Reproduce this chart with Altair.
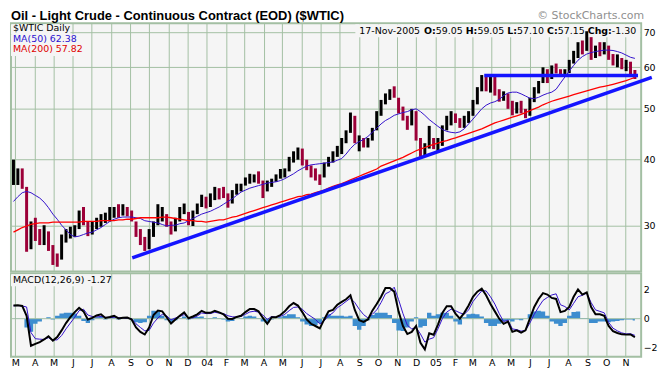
import altair as alt
import pandas as pd

# ---------------- data (weekly readings, Wednesday of each week) ----------------
first_week = "2003-02-26"

high = [
    40.0, 38.5, 38.5, 35.5, 30.5, 31.0, 29.5, 30.0, 29.2, 27.5,
    26.5, 28.8, 29.5, 29.8, 30.0, 32.0, 32.5, 30.5, 30.5, 31.0,
    31.5, 31.7, 32.5, 32.5, 32.9, 32.9, 32.5, 32.0, 30.5, 29.5,
    28.5, 29.5, 30.5, 32.9, 32.5, 31.5, 30.5, 31.0, 32.5, 33.0,
    31.8, 32.0, 33.0, 34.3, 34.0, 34.5, 35.5, 35.3, 35.5, 34.5,
    35.0, 36.0, 36.0, 37.0, 37.6, 37.5, 38.0, 36.5, 36.5, 36.8,
    37.5, 38.4, 38.5, 40.5, 41.5, 42.2, 42.0, 40.0, 39.0, 38.5,
    37.5, 39.5, 40.5, 41.5, 42.5, 44.0, 45.5, 49.2, 48.5, 44.5,
    44.0, 44.0, 46.0, 49.5, 52.0, 53.5, 54.5, 55.2, 52.5, 50.5,
    48.5, 50.0, 49.5, 44.0, 43.0, 46.4, 44.0, 44.0, 46.5, 48.5,
    49.5, 49.0, 48.0, 48.5, 49.5, 52.0, 55.0, 58.0, 57.5, 57.5,
    58.0, 54.5, 54.0, 53.5, 51.8, 51.5, 51.8, 50.0, 52.5, 55.0,
    56.5, 60.0, 59.5, 60.5, 61.0, 59.5, 59.5, 62.0, 64.5, 67.0,
    67.5, 70.3, 68.5, 66.0, 67.0, 67.0, 66.0, 63.6, 63.5, 62.5,
    62.0, 61.5, 59.3,
]
low = [
    35.8, 35.8, 35.2, 26.7, 27.0, 28.0, 27.5, 27.5, 26.8, 25.2,
    25.0, 25.8, 27.8, 28.3, 28.5, 29.5, 30.0, 28.6, 28.8, 29.5,
    29.8, 30.3, 30.5, 31.0, 31.0, 31.3, 31.2, 30.5, 28.5, 27.5,
    26.8, 27.0, 28.5, 30.0, 30.5, 29.8, 28.8, 29.2, 30.5, 31.5,
    30.0, 29.9, 31.5, 32.5, 32.3, 32.5, 33.5, 33.6, 33.8, 32.4,
    33.0, 34.3, 34.8, 35.7, 36.0, 36.2, 36.0, 33.8, 34.8, 35.5,
    36.3, 36.8, 37.0, 38.0, 39.5, 40.0, 39.0, 38.2, 37.0, 36.5,
    35.8, 37.0, 38.8, 39.5, 40.5, 41.0, 43.0, 45.0, 43.0, 41.5,
    42.2, 42.2, 43.5, 45.5, 48.5, 51.0, 52.0, 52.5, 49.0, 47.5,
    45.6, 46.5, 43.5, 40.5, 40.8, 42.0, 41.9, 41.5, 42.5, 45.5,
    46.5, 47.0, 46.0, 46.0, 47.0, 48.5, 51.0, 54.0, 54.0, 53.7,
    53.0, 51.6, 51.8, 50.0, 48.6, 49.0, 49.0, 48.0, 48.5, 51.5,
    53.5, 56.0, 56.0, 57.0, 58.4, 57.5, 57.8, 58.5, 61.0, 62.5,
    63.5, 64.5, 62.0, 62.5, 63.0, 63.5, 62.0, 60.5, 60.0, 59.5,
    59.0, 57.8, 57.0,
]
close = [
    37.5, 37.8, 36.5, 27.5, 28.8, 28.7, 28.2, 28.5, 27.2, 26.0,
    25.8, 28.2, 28.9, 29.3, 29.6, 31.5, 30.7, 29.0, 30.0, 30.5,
    31.0, 31.0, 31.8, 32.0, 31.5, 31.8, 31.7, 31.0, 29.0, 28.0,
    27.5, 28.5, 30.0, 31.5, 31.5, 30.2, 29.2, 30.8, 32.0, 32.0,
    30.5, 31.5, 32.8, 33.5, 32.8, 34.0, 35.0, 34.5, 34.0, 33.5,
    34.8, 35.5, 35.5, 36.5, 37.0, 37.3, 36.5, 35.0, 36.0, 36.3,
    37.2, 37.8, 38.3, 40.0, 41.0, 41.5, 39.5, 38.5, 38.0, 37.0,
    36.5, 39.0, 40.0, 41.0, 41.5, 43.5, 45.0, 47.5, 43.5, 43.8,
    42.8, 43.5, 45.5, 49.0, 51.5, 53.0, 54.0, 52.8, 49.5, 48.0,
    46.5, 49.5, 44.0, 41.0, 42.5, 44.5, 42.5, 43.5, 45.5, 48.0,
    48.5, 47.5, 46.5, 47.5, 48.5, 51.5, 54.5, 56.5, 54.5, 57.0,
    53.5, 52.5, 53.5, 50.5, 49.5, 51.0, 49.5, 48.5, 52.0, 54.5,
    56.0, 59.0, 57.0, 60.0, 59.0, 58.0, 59.0, 61.5, 64.0, 66.5,
    65.0, 69.0, 63.0, 64.5, 63.5, 66.0, 62.5, 61.5, 62.5, 60.0,
    61.0, 58.5, 57.15,
]
ma50 = [
    33.3, 34.0, 34.6, 34.8, 34.6, 34.2, 33.8, 33.2, 32.4, 31.5,
    30.8, 30.0, 29.4, 28.8, 28.5, 28.6, 28.8, 29.0, 29.1, 29.4,
    29.7, 30.1, 30.5, 30.8, 31.0, 31.1, 31.1, 31.1, 31.0, 30.9,
    30.6, 30.5, 30.4, 30.3, 30.1, 29.9, 30.0, 30.0, 30.2, 30.3,
    30.6, 30.9, 31.2, 31.5, 31.7, 31.9, 32.2, 32.5, 32.9, 33.3,
    33.7, 34.2, 34.7, 35.0, 35.3, 35.5, 35.7, 35.9, 36.1, 36.2,
    36.3, 36.5, 36.8, 37.2, 37.6, 38.1, 38.5, 38.9, 39.1, 39.2,
    39.3, 39.4, 39.5, 39.6, 39.9, 40.2, 41.0, 42.0, 42.8, 43.3,
    43.7, 44.3, 45.1, 45.9, 46.8, 47.5, 48.0, 48.6, 48.9, 49.2,
    49.4, 49.8, 50.0, 49.4, 48.6, 47.7, 47.0, 46.3, 45.7, 45.3,
    45.1, 45.0, 45.2, 45.8, 46.8, 47.8, 48.9, 50.0, 50.8, 51.3,
    51.6, 52.1, 53.0, 53.6, 53.8, 53.8, 53.4, 52.9, 52.4, 52.3,
    52.6, 53.1, 53.5, 53.8, 54.5, 56.0, 57.5, 59.0, 60.5, 61.9,
    62.9, 63.6, 64.0, 64.3, 64.5, 64.7, 64.7, 64.6, 64.3, 63.9,
    63.3, 62.7, 62.4,
]
ma200 = [
    29.1, 29.4, 29.7, 29.9, 30.1, 30.2, 30.3, 30.3, 30.3, 30.4,
    30.4, 30.4, 30.4, 30.4, 30.4, 30.4, 30.5, 30.5, 30.5, 30.5,
    30.6, 30.6, 30.6, 30.6, 30.7, 30.7, 30.8, 30.8, 30.9, 31.0,
    31.0, 31.0, 31.0, 31.0, 31.1, 31.1, 31.0, 30.9, 30.8, 30.7,
    30.6, 30.6, 30.5, 30.5, 30.4, 30.5, 30.6, 30.7, 30.7, 30.9,
    31.1, 31.2, 31.4, 31.6, 31.8, 32.0, 32.2, 32.4, 32.6, 32.8,
    33.0, 33.2, 33.4, 33.6, 33.8, 34.0, 34.1, 34.3, 34.4, 34.6,
    34.8, 35.0, 35.3, 35.6, 35.8, 36.0, 36.3, 36.6, 36.9, 37.2,
    37.5, 37.8, 38.1, 38.4, 38.9, 39.2, 39.5, 39.8, 40.1, 40.4,
    40.8, 41.2, 41.6, 41.9, 42.2, 42.5, 42.8, 43.0, 43.3, 43.5,
    43.8, 44.0, 44.3, 44.6, 44.9, 45.2, 45.5, 45.8, 46.2, 46.6,
    47.0, 47.3, 47.6, 47.9, 48.2, 48.5, 48.8, 49.2, 49.6, 50.0,
    50.4, 50.9, 51.3, 51.7, 52.0, 52.3, 52.6, 52.9, 53.2, 53.5,
    53.8, 54.1, 54.4, 54.7, 55.0, 55.2, 55.4, 55.7, 56.0, 56.3,
    56.6, 57.0, 57.4,
]
macd = [
    0.90, 0.92, 0.87, 0.20, -1.85, -1.72, -1.60, -1.42, -1.20, -1.50,
    -1.25, -0.80, -0.30, 0.10, 0.45, 0.75, 0.50, -0.05, 0.05, 0.22,
    0.30, 0.05, 0.12, 0.20, 0.02, 0.07, 0.08, -0.05, -0.60, -0.90,
    -1.08, -0.60, 0.25, 0.55, 0.50, 0.10, -0.33, -0.05, 0.20, 0.43,
    0.03, 0.15, 0.30, 0.54, 0.40, 0.40, 0.54, 0.43, 0.30, 0.00,
    -0.02, 0.12, 0.20, 0.45, 0.66, 0.66, 0.50, 0.05, -0.35, 0.10,
    0.10, 0.25, 0.50, 0.85, 1.07, 0.90, 0.45, -0.05, -0.35, -0.50,
    -0.66, -0.05, 0.50, 0.60, 0.95, 1.15, 1.33, 1.60, 0.60, -0.10,
    -0.22, -0.05, 0.55, 1.00, 1.50, 2.10, 2.10, 1.85, 0.50, -0.50,
    -1.05, -0.90, -0.50, -1.65, -2.10, -1.00, -1.10, -0.40, 0.40, 0.85,
    0.85, 0.35, 0.00, 0.40, 0.90, 1.50, 1.85, 2.05, 1.60, 1.00,
    0.50, 0.00, -0.35, -0.20, -0.90, -0.80, -0.95, -0.80, 0.00, 0.80,
    1.35, 1.75, 1.65, 1.42, 1.35, 0.45, 0.53, 0.80, 1.50, 2.00,
    1.65, 1.80, 0.80, 0.30, 0.30, 0.20, -0.50, -0.85, -0.98, -1.07,
    -1.09, -1.08, -1.27,
]
hist = [
    0.02, 0.02, 0.00, -0.60, -0.90, -0.35, -0.20, 0.00, 0.10, -0.05,
    0.20, 0.35, 0.40, 0.40, 0.35, 0.20, -0.15, -0.30, -0.10, 0.10,
    0.15, -0.05, 0.05, 0.10, -0.05, 0.02, 0.05, -0.05, -0.25, -0.30,
    -0.25, 0.20, 0.55, 0.50, 0.20, -0.10, -0.25, -0.10, 0.05, 0.15,
    -0.05, 0.10, 0.12, 0.15, 0.05, 0.05, 0.10, 0.05, -0.05, -0.20,
    -0.15, 0.00, 0.05, 0.15, 0.20, 0.15, 0.05, -0.20, -0.30, -0.05,
    0.00, 0.10, 0.20, 0.30, 0.30, 0.10, -0.20, -0.40, -0.50, -0.45,
    -0.30, 0.10, 0.30, 0.20, 0.20, 0.20, 0.15, 0.20, -0.50, -0.75,
    -0.50, -0.10, 0.25, 0.40, 0.40, 0.40, 0.25, -0.30, -0.80, -0.85,
    -0.60, -0.20, 0.10, -0.60, -0.50, 0.40, 0.20, 0.30, 0.40, 0.40,
    0.20, -0.20, -0.40, 0.10, 0.30, 0.33, 0.30, 0.15, -0.30, -0.50,
    -0.50, -0.35, -0.15, -0.10, -0.20, -0.05, -0.10, 0.00, 0.30, 0.50,
    0.55, 0.50, 0.20, -0.20, -0.35, -0.50, -0.30, 0.20, 0.45, 0.50,
    0.05, 0.05, -0.30, -0.30, -0.20, -0.20, -0.25, -0.20, -0.15, -0.10,
    -0.05, -0.05, -0.13,
]

# trend lines drawn on the chart
trend_ids = ["up", "up", "flat", "flat"]
trend_dates = ["2003-09-04", "2005-12-13", "2005-03-20", "2005-11-21"]
trend_prices = [26.0, 57.4, 57.9, 57.9]

price_ticks = [30, 40, 50, 60, 70]
macd_ticks = [-2, -1, 0, 1, 2]
month_ticks = [alt.DateTime(year=y, month=m, date=1)
               for y in (2003, 2004, 2005) for m in range(1, 13)
               if (y, m) >= (2003, 3) and (y, m) <= (2005, 11)]

# ---------------- tables ----------------
dates = pd.date_range(first_week, periods=len(close), freq="7D").strftime("%Y-%m-%d")
prev = [close[0]] + close[:-1]
df = pd.DataFrame({
    "date": dates, "high": high, "low": low, "close": close,
    "ma50": ma50, "ma200": ma200, "macd": macd, "hist": hist,
})
df["dir"] = ["up" if c >= p else "down" for c, p in zip(close, prev)]
df["signal"] = [m - h for m, h in zip(macd, hist)]
trend = pd.DataFrame({"id": trend_ids, "date": trend_dates, "price": trend_prices})
one = pd.DataFrame({"k": [0]})

W, HT, HM = 635, 250, 84
FONT = "DejaVu Sans"
GRID = "#a3bfa3"
x_dom = [alt.DateTime(year=2003, month=2, date=22), alt.DateTime(year=2005, month=11, date=26)]
xs = alt.Scale(domain=x_dom)
ps = alt.Scale(type="log", domain=[24.5, 72.8])
ms = alt.Scale(domain=[-2.60, 3.10])

x_top = alt.X("date:T", scale=xs, axis=alt.Axis(values=month_ticks, grid=True, labels=False,
                                                 ticks=False, domain=False, title=None))
x_bot = alt.X("date:T", scale=xs, axis=alt.Axis(
    values=month_ticks, grid=True, ticks=False, domain=False, title=None, labelPadding=1,
    labelOverlap=False, labelFlush=False, labelAngle=0, labelSeparation=0,
    labelExpr="month(datum.value) == 0 ? timeFormat(datum.value, '%y') : slice(timeFormat(datum.value, '%b'), 0, 1)"))

base = alt.Chart(df)

bars = base.mark_rule(strokeWidth=3.0).encode(
    x=x_top,
    y=alt.Y("low:Q", scale=ps, axis=alt.Axis(orient="right", values=price_ticks, grid=True, title=None,
                                           ticks=False, domain=False, labelPadding=2, labelOverlap=False,
                                           format="d")),
    y2="high:Q",
    color=alt.Color("dir:N", scale=alt.Scale(domain=["up", "down"], range=["#000000", "#9c0038"]), legend=None),
)
ma50_line = base.mark_line(color="#3311cc", strokeWidth=1).encode(x=x_top, y=alt.Y("ma50:Q", scale=ps))
ma200_line = base.mark_line(color="#ff0000", strokeWidth=1.3).encode(x=x_top, y=alt.Y("ma200:Q", scale=ps))
trend_lines = alt.Chart(trend).mark_line(color="#1414ff", strokeWidth=3.5, clip=False).encode(
    x=x_top, y=alt.Y("price:Q", scale=ps), detail="id:N")


def box(x0, x1, y0, y1):
    return alt.Chart(one).mark_rect(color="#f5f5f5").encode(
        x=alt.value(x0), x2=alt.value(x1), y=alt.value(y0), y2=alt.value(y1))


def label(txt, x, y, color="#000000", size=9.5, weight="normal", align="left", font=FONT):
    return alt.Chart(one).mark_text(text=txt, align=align, baseline="alphabetic", font=font,
                                    fontSize=size, fontWeight=weight, color=color).encode(
        x=alt.value(x), y=alt.value(y))


info = [("17-Nov-2005", 351.0, "normal"), ("O:", 416.1, "bold"), ("59.05", 428.0, "normal"),
        ("H:", 458.2, "bold"), ("59.05", 470.0, "normal"), ("L:", 500.2, "bold"),
        ("57.10", 510.0, "normal"), ("C:", 540.2, "bold"), ("57.15", 551.0, "normal"),
        ("Chg:", 581.2, "bold"), ("-1.30", 605.5, "normal")]

top_layers = [
    box(0, 60, 1, 11), box(0, 66, 11, 22), box(0, 72, 22, 33), box(347, 634, 1, 14),
    bars, ma50_line, ma200_line, trend_lines,
    label("Oil - Light Crude - Continuous Contract (EOD) ($WTIC)", 0, -3, size=13, weight="bold",
          font="Liberation Sans"),
    label("\u00a9 StockCharts.com", 638, -4, color="#909090", size=11, align="right"),
    label("$WTIC Daily", 2, 8), label("MA(50) 62.38", 2, 18.5, color="#2a10d0"),
    label("MA(200) 57.82", 2, 29, color="#e00000"),
] + [label(t, x, 10.5, weight=w) for t, x, w in info]

top = alt.layer(*top_layers).properties(width=W, height=HT)

mbase = alt.Chart(df)
histo = mbase.mark_area(color="#3d8dcf", interpolate="step").encode(
    x=x_bot,
    y=alt.Y("hist:Q", scale=ms, axis=alt.Axis(orient="right", values=macd_ticks, grid=False, title=None,
                                            ticks=False, domain=False, labelPadding=2, labelOverlap=False)),
    y2=alt.datum(0),
)
zero = alt.Chart(one).mark_rule(color=GRID, strokeWidth=1).encode(y=alt.Y("k:Q", scale=ms))
sig = mbase.mark_line(color="#3311cc", strokeWidth=1).encode(x=x_bot, y=alt.Y("signal:Q", scale=ms))
mline = mbase.mark_line(color="#000000", strokeWidth=2).encode(x=x_bot, y=alt.Y("macd:Q", scale=ms))
bottom = alt.layer(
    histo, zero, sig, mline,
    box(0, 100, 1, 13),
    label("MACD(12,26,9)  -1.27", 2, 10),
).properties(width=W, height=HM)

chart = alt.vconcat(top, bottom, spacing=0).properties(
    padding={"left": 0, "top": 0, "right": 0, "bottom": 0}, background="white"
).configure_view(fill="#f5f5f5", stroke="#a3bfa3", strokeWidth=2).configure_axis(
    gridColor=GRID, gridWidth=1, labelFont=FONT, labelFontSize=9.5, labelColor="#000000"
).configure_axisX(labelOverlap=False)

chart.save("out.html", embed_options={"renderer": "svg", "actions": False})
